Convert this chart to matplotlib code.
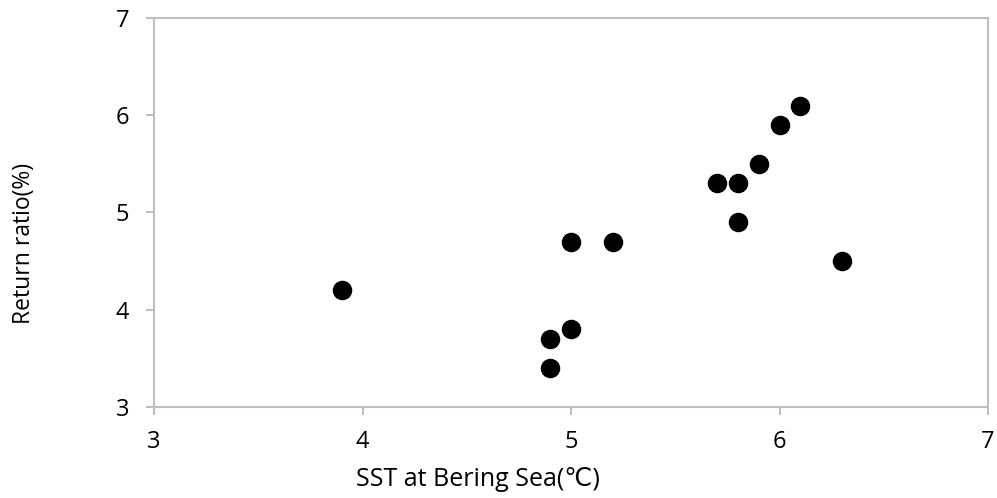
import matplotlib
matplotlib.use("Agg")
import matplotlib.pyplot as plt

# SST at Bering Sea vs. return ratio
sst = [3.9, 4.9, 4.9, 5.0, 5.0, 5.2, 5.7, 5.8, 5.8, 5.9, 6.0, 6.1, 6.3]
return_ratio = [4.2, 3.7, 3.4, 3.8, 4.7, 4.7, 5.3, 5.3, 4.9, 5.5, 5.9, 6.1, 4.5]

x_ticks = [3, 4, 5, 6, 7]
y_ticks = [3, 4, 5, 6, 7]

AXIS_GREY = "#BFBFBF"

plt.rcParams["font.family"] = ["Open Sans", "DejaVu Sans"]

fig = plt.figure(figsize=(9.97, 4.98), dpi=100)
ax = fig.add_axes([0.1545, 0.1827, 0.8365, 0.7812])

ax.scatter(sst, return_ratio, s=170, color="black", zorder=3, clip_on=False)

ax.set_xlim(3, 7)
ax.set_ylim(3, 7)
ax.set_xticks(x_ticks)
ax.set_yticks(y_ticks)

for spine in ax.spines.values():
    spine.set_color(AXIS_GREY)
    spine.set_linewidth(1.5)

ax.tick_params(axis="both", direction="out", length=5.8, width=1.5, color=AXIS_GREY,
               labelsize=17, labelcolor="black")
ax.tick_params(axis="x", pad=11)
ax.tick_params(axis="y", pad=12)

ax.set_xlabel("SST at Bering Sea(\u2103)", fontsize=18)
ax.xaxis.set_label_coords(0.3885, -0.153)
ax.set_ylabel("Return ratio(%)", fontsize=16.5)
ax.yaxis.set_label_coords(-0.141, 0.4216)

fig.savefig("out.png", dpi=100)
